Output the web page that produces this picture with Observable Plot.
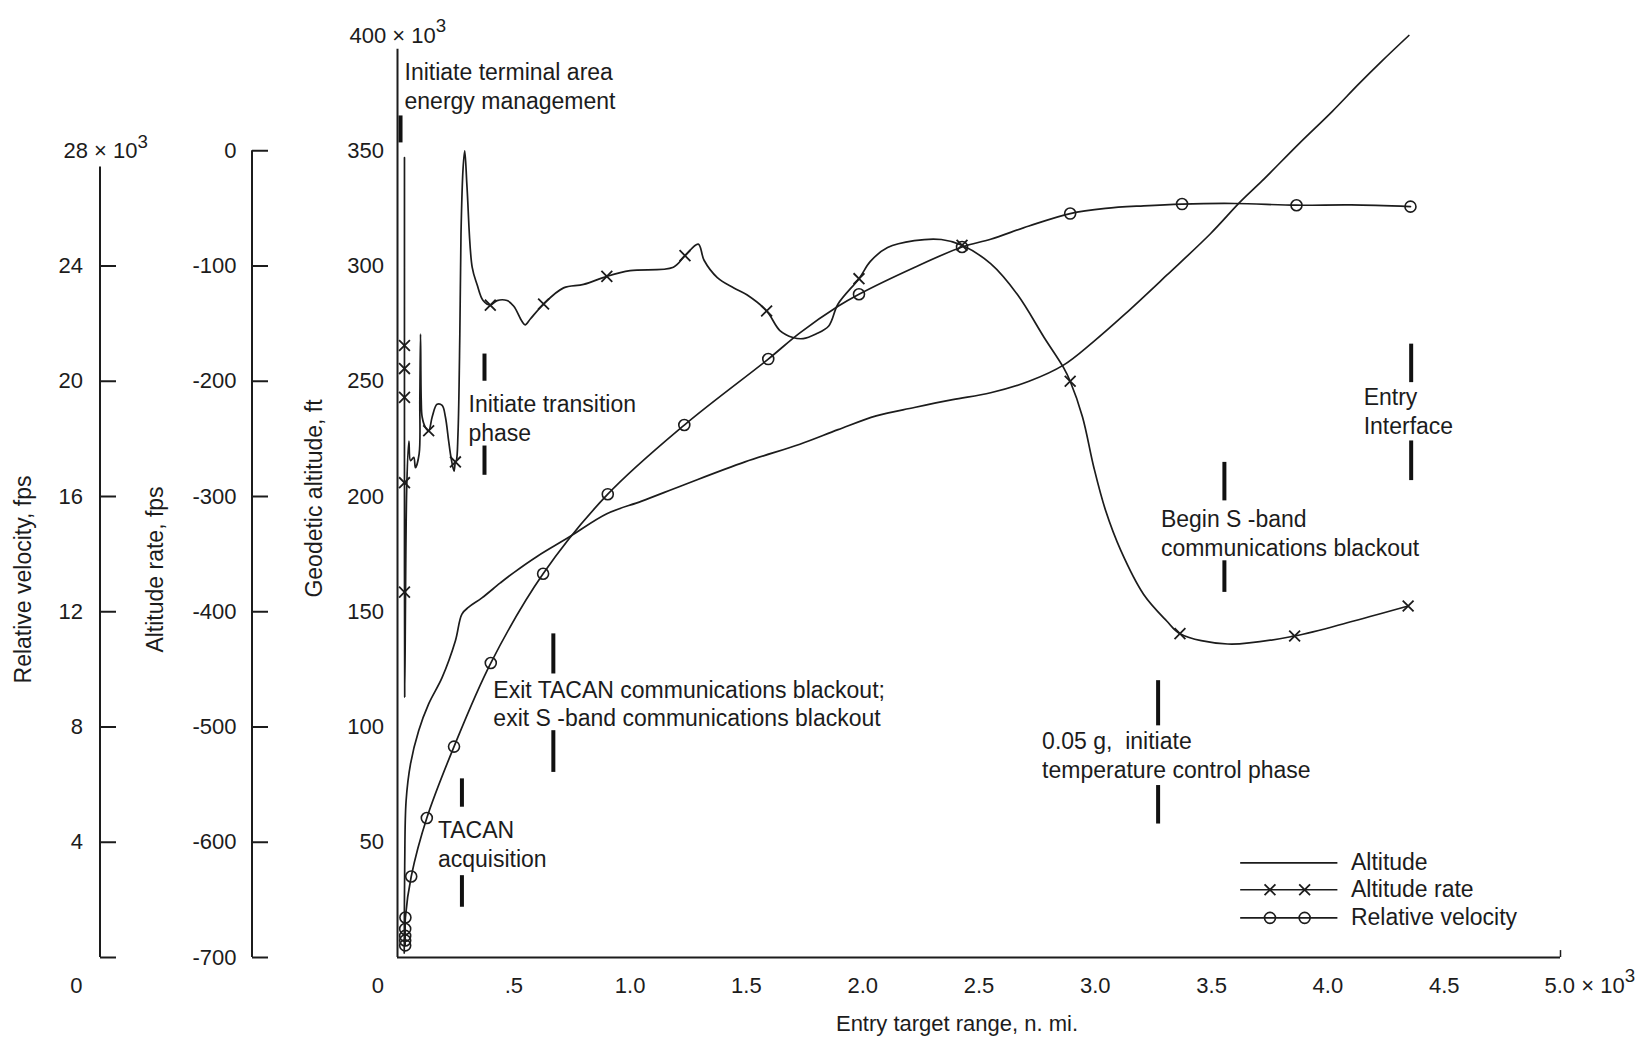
<!DOCTYPE html>
<html>
<head>
<meta charset="utf-8">
<script src="https://cdn.jsdelivr.net/npm/d3@7"></script>
<script src="https://cdn.jsdelivr.net/npm/@observablehq/plot@0.6"></script>
<style>
  html, body { margin: 0; padding: 0; background: #ffffff; }
  #chart { width: 1643px; height: 1048px; }
  #chart svg { overflow: visible; }
</style>
</head>
<body>
<div id="chart"></div>
<script>
// ---------------- DATA (range in 10^3 n. mi.) ----------------
// Geodetic altitude, 10^3 ft
const altitudeCurve = [
  [4.348, 400], [4.233, 389], [4.133, 379], [4.018, 367], [3.875, 353], [3.718, 337],
  [3.625, 328], [3.495, 314], [3.307, 296], [3.126, 279], [2.990, 267], [2.863, 257],
  [2.715, 250], [2.550, 245], [2.387, 242], [2.222, 238.6], [2.058, 235], [1.894, 229],
  [1.730, 222.7], [1.494, 215], [1.230, 205], [1.050, 198], [0.900, 192.5], [0.738, 182.4],
  [0.600, 174], [0.500, 167], [0.442, 162.5], [0.363, 156], [0.306, 152], [0.277, 149],
  [0.249, 137.4], [0.192, 121.5], [0.134, 110], [0.091, 98.4], [0.056, 84], [0.037, 68],
  [0.031, 40], [0.029, 2]
];
// Altitude rate, fps
const rateCurve = [
  [4.345, -395], [4.111, -408], [3.857, -421], [3.569, -428], [3.364, -419], [3.307, -408],
  [3.208, -385], [3.110, -347], [3.044, -312], [2.994, -275], [2.945, -231], [2.892, -200],
  [2.863, -188], [2.780, -162], [2.666, -125], [2.550, -98], [2.427, -82], [2.338, -77],
  [2.222, -78], [2.107, -84], [2.033, -96], [1.984, -111], [1.894, -133], [1.854, -152],
  [1.799, -159], [1.744, -163], [1.700, -162], [1.644, -156], [1.587, -139], [1.502, -125],
  [1.446, -119], [1.375, -110], [1.318, -95], [1.293, -81], [1.236, -91], [1.186, -101],
  [1.000, -104], [0.900, -109], [0.800, -116], [0.714, -119], [0.628, -133], [0.571, -146],
  [0.549, -151], [0.535, -148], [0.500, -135], [0.471, -130], [0.428, -130], [0.399, -134],
  [0.368, -130], [0.342, -116], [0.321, -101], [0.299, -32], [0.289, 0], [0.282, -15],
  [0.273, -72], [0.268, -159], [0.260, -246], [0.253, -269], [0.249, -270], [0.243, -278],
  [0.230, -266], [0.220, -252], [0.206, -231], [0.192, -221], [0.170, -220], [0.149, -231],
  [0.134, -243], [0.120, -240], [0.106, -231], [0.102, -216], [0.099, -159], [0.096, -216],
  [0.093, -263], [0.077, -275], [0.070, -266], [0.056, -269], [0.049, -252], [0.040, -290],
  [0.031, -474], [0.030, -300], [0.030, -6]
];
const rateMarks = [
  [4.345, -395], [3.857, -421], [3.364, -419], [2.892, -200], [2.427, -82], [1.984, -111],
  [1.587, -139], [1.236, -91], [0.900, -109], [0.628, -133], [0.399, -134], [0.249, -270],
  [0.134, -243], [0.030, -169], [0.030, -189], [0.030, -214], [0.030, -288], [0.030, -383]
];
// Relative velocity, 10^3 fps
const velocityCurve = [
  [4.355, 26.06], [4.100, 26.12], [3.865, 26.11], [3.600, 26.17], [3.373, 26.15], [3.208, 26.09],
  [3.044, 26.00], [2.892, 25.82], [2.715, 25.39], [2.550, 24.93], [2.427, 24.66], [2.222, 23.95],
  [1.984, 23.02], [1.894, 22.60], [1.730, 21.68], [1.594, 20.77], [1.233, 18.48], [0.904, 16.08],
  [0.626, 13.32], [0.401, 10.22], [0.243, 7.32], [0.126, 4.84], [0.059, 2.81], [0.034, 1.39],
  [0.033, 0.99], [0.033, 0.75], [0.033, 0.59], [0.033, 0.42]
];
const velocityMarks = [
  [4.355, 26.06], [3.865, 26.11], [3.373, 26.15], [2.892, 25.82], [2.427, 24.66], [1.984, 23.02],
  [1.594, 20.77], [1.233, 18.48], [0.904, 16.08], [0.626, 13.32], [0.401, 10.22], [0.243, 7.32],
  [0.126, 4.84], [0.059, 2.81], [0.034, 1.39], [0.033, 0.99], [0.033, 0.75], [0.033, 0.59], [0.033, 0.42]
];

// Tick values
const rangeTicks = [0.5, 1.0, 1.5, 2.0, 2.5, 3.0, 3.5, 4.0, 4.5, 5.0];
const altitudeTicks = [0, 50, 100, 150, 200, 250, 300, 350, 400];
const rateTicks = [0, -100, -200, -300, -400, -500, -600, -700];
const velocityTicks = [0, 4, 8, 12, 16, 20, 24, 28];

// Events (range, label)
const events = [
  {range: 0.013, label: "Initiate terminal area\nenergy management"},
  {range: 0.277, label: "TACAN\nacquisition"},
  {range: 0.374, label: "Initiate transition\nphase"},
  {range: 0.670, label: "Exit TACAN communications blackout;\nexit S -band communications blackout"},
  {range: 3.270, label: "0.05 g,  initiate\ntemperature control phase"},
  {range: 3.555, label: "Begin S -band\ncommunications blackout"},
  {range: 4.358, label: "Entry\nInterface"}
];

// Legend entries
const legendItems = ["Altitude", "Altitude rate", "Relative velocity"];

// ---------------- LAYOUT (kept apart from the data) ----------------
const eventLayout = [
  {bars: [[353.4, 365.1]], textY: 378.5, dx: 4},
  {bars: [[65.2, 77.5], [21.8, 35.5]], textY: 49.6, dx: -24},
  {bars: [[250.0, 261.8], [209.2, 221.9]], textY: 234.5, dx: -16},
  {bars: [[123.0, 140.4], [80.3, 98.4]], textY: 110.5, dx: -60},
  {bars: [[100.5, 120.1], [57.9, 74.6]], textY: 88.3, dx: -116},
  {bars: [[198.1, 214.8], [158.4, 172.1]], textY: 184.5, dx: -63.5},
  {bars: [[249.4, 266.1], [206.9, 224.1]], textY: 237.3, dx: -47.5}
];
const legendLayout = {x1: 3.625, x2: 4.043, markX: [3.751, 3.900], textX: 4.099, y: [41.07, 29.4, 17.2]};
const frameTop = 394;          // left frame line stops just below the "400 × 10³" label
const velocityAxisTop = 343;   // velocity axis line stops just below the "28 × 10³" label

const INK = "#1c1c1c";
const FONT = "'Liberation Sans', Arial, Helvetica, sans-serif";

// axis mappings onto the shared (geodetic altitude) vertical scale
const rateToAlt = r => 350 + r / 2;
const velToAlt = v => v * 12.5;

const eventBars = [];
events.forEach((e, i) => eventLayout[i].bars.forEach(b => eventBars.push({x: e.range, y1: b[0], y2: b[1]})));

const legendMarks = [];
legendLayout.markX.forEach(x => {
  legendMarks.push({x, y: legendLayout.y[1], symbol: "times"});
  legendMarks.push({x, y: legendLayout.y[2], symbol: "circle"});
});

const rateLabel = new Map(rateTicks.map(r => [rateToAlt(r), String(r)]));
const velLabel = new Map(velocityTicks.map(v => [velToAlt(v), v === 0 ? "" : String(v)]));

const chart = Plot.plot({
  width: 1643,
  height: 1048,
  marginLeft: 397,
  marginRight: 83,
  marginTop: 35,
  marginBottom: 91,
  x: {domain: [0, 5]},
  y: {domain: [0, 400]},
  style: {fontFamily: FONT, fontSize: "22px", color: INK, background: "#ffffff"},
  marks: [
    // frame lines
    Plot.ruleY([0], {stroke: INK, strokeWidth: 2}),
    Plot.ruleX([0], {y1: 0, y2: frameTop, stroke: INK, strokeWidth: 2}),
    Plot.ruleX([5], {y1: 0, y2: 3, stroke: INK, strokeWidth: 1.5}),

    // x axis
    Plot.axisX(rangeTicks.filter(t => t < 5), {
      anchor: "bottom", tickSize: 0, tickPadding: 20, fontSize: 22, label: null,
      tickFormat: t => t === 0.5 ? ".5" : t.toFixed(1)
    }),
    Plot.text([5], {x: d => d, y: 0, text: d => d.toFixed(1) + " × 10³", textAnchor: "start",
      dx: -16, dy: 28, fontSize: 22, fill: INK}),
    Plot.text(["Entry target range, n. mi."], {frameAnchor: "bottom", text: d => d, textAnchor: "middle",
      dx: -22, dy: 73, fontSize: 22, fill: INK}),

    // geodetic altitude axis
    Plot.axisY(altitudeTicks.filter(a => a > 0 && a < 400), {
      anchor: "left", tickSize: 0, tickPadding: 13.5, fontSize: 22, label: null
    }),
    Plot.text([400], {y: d => d, frameAnchor: "left", text: d => d + " × 10³", textAnchor: "start",
      dx: -48, fontSize: 22, fill: INK}),
    Plot.text([0], {y: d => d, frameAnchor: "left", text: d => String(d), textAnchor: "end",
      dx: -13.5, dy: 28, fontSize: 22, fill: INK}),
    Plot.text(["Geodetic altitude, ft"], {frameAnchor: "left", text: d => d, rotate: -90, textAnchor: "middle",
      dx: -83, dy: 2, fontSize: 23, fill: INK}),

    // altitude rate axis
    Plot.ruleX([0], {y1: rateToAlt(-700), y2: rateToAlt(0), dx: -145.5, stroke: INK, strokeWidth: 2}),
    Plot.axisY(rateTicks.map(rateToAlt), {
      anchor: "left", tickSize: 16, tickPadding: 16, dx: -129, strokeWidth: 2, fontSize: 22, label: null,
      tickFormat: a => rateLabel.get(a)
    }),
    Plot.text(["Altitude rate, fps"], {frameAnchor: "left", text: d => d, rotate: -90, textAnchor: "middle",
      dx: -242, dy: 73, fontSize: 23, fill: INK}),

    // relative velocity axis
    Plot.ruleX([0], {y1: velToAlt(0), y2: velocityAxisTop, dx: -297.5, stroke: INK, strokeWidth: 2}),
    Plot.axisY(velocityTicks.filter(v => v < 28).map(velToAlt), {
      anchor: "left", tickSize: 16, tickPadding: 17.5, dx: -281, strokeWidth: 2, fontSize: 22, label: null,
      tickFormat: a => velLabel.get(a)
    }),
    Plot.text([28], {y: velToAlt, frameAnchor: "left", text: d => d + " × 10³", textAnchor: "start",
      dx: -334, fontSize: 22, fill: INK}),
    Plot.text([0], {y: velToAlt, frameAnchor: "left", text: d => String(d), textAnchor: "end",
      dx: -315, dy: 28, fontSize: 22, fill: INK}),
    Plot.text(["Relative velocity, fps"], {frameAnchor: "left", text: d => d, rotate: -90, textAnchor: "middle",
      dx: -374, dy: 83, fontSize: 23, fill: INK}),

    // series
    Plot.line(altitudeCurve, {x: d => d[0], y: d => d[1], curve: "catmull-rom", stroke: INK, strokeWidth: 1.7}),
    Plot.line(rateCurve, {x: d => d[0], y: d => rateToAlt(d[1]), curve: "catmull-rom", stroke: INK, strokeWidth: 1.7}),
    Plot.line(velocityCurve, {x: d => d[0], y: d => velToAlt(d[1]), curve: "catmull-rom", stroke: INK, strokeWidth: 1.7}),
    Plot.dot(rateMarks, {x: d => d[0], y: d => rateToAlt(d[1]), symbol: "times", r: 5, stroke: INK, strokeWidth: 1.8}),
    Plot.dot(velocityMarks, {x: d => d[0], y: d => velToAlt(d[1]), symbol: "circle", r: 5.5, fill: "none", stroke: INK, strokeWidth: 1.6}),

    // event markers and labels
    Plot.ruleX(eventBars, {x: "x", y1: "y1", y2: "y2", stroke: "#111", strokeWidth: 4}),
    ...events.map((e, i) => Plot.text([e], {
      x: d => d.range, y: () => eventLayout[i].textY, text: d => d.label,
      textAnchor: "start", lineAnchor: "middle", lineHeight: 1.25, dx: eventLayout[i].dx,
      fontSize: 23, fill: INK
    })),

    // legend
    Plot.ruleY(legendItems, {y: (d, i) => legendLayout.y[i], x1: legendLayout.x1, x2: legendLayout.x2, stroke: INK, strokeWidth: 1.7}),
    Plot.dot(legendMarks.filter(d => d.symbol === "times"), {x: "x", y: "y", symbol: "times", r: 5, stroke: INK, strokeWidth: 1.8}),
    Plot.dot(legendMarks.filter(d => d.symbol === "circle"), {x: "x", y: "y", symbol: "circle", r: 5.5, fill: "none", stroke: INK, strokeWidth: 1.6}),
    Plot.text(legendItems, {x: legendLayout.textX, y: (d, i) => legendLayout.y[i], text: d => d,
      textAnchor: "start", fontSize: 23, fill: INK})
  ]
});

// render "×10³" with a real superscript
d3.select(chart).selectAll("text").each(function () {
  const t = this.textContent;
  if (this.childElementCount === 0 && t.endsWith("³")) {
    this.textContent = t.slice(0, -1);
    d3.select(this).append("tspan").attr("dy", "-0.55em").attr("font-size", "0.85em").text("3");
  }
});

document.getElementById("chart").appendChild(chart);
</script>
</body>
</html>
